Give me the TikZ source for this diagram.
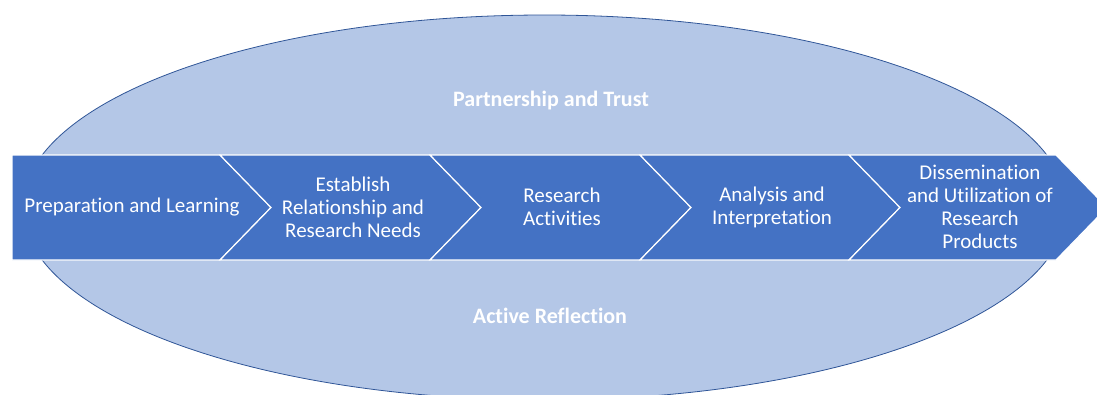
\documentclass[tikz,border=0pt]{standalone}
\usepackage{fontspec}
\setmainfont{Carlito}[Ligatures=NoCommon]
\usetikzlibrary{shapes}
\definecolor{cyclelight}{RGB}{180,199,231}
\definecolor{cycleedge}{RGB}{47,85,151}
\definecolor{stepblue}{RGB}{68,114,196}
\tikzstyle{cycle-back}=[draw=cycleedge, fill=cyclelight, line width=0.8pt]
\tikzstyle{chevron}=[draw=white, fill=stepblue, line width=1.2pt, line join=miter]
\tikzstyle{step-text}=[text=white, align=center, inner sep=0pt, font=\fontsize{21}{23}\selectfont]
\tikzstyle{cycle-text}=[text=white, inner sep=0pt, font=\fontsize{22}{26}\selectfont\bfseries]

\begin{document}
\begin{tikzpicture}[x=1pt,y=-1pt]
	\useasboundingbox (0,0) rectangle (1097,394);
	% background
	 \draw [cycle-back] (544.5,207.5) ellipse [x radius=522, y radius=192.5];

	% chevrons
	 \draw [chevron] (12,155) -- (220,155) -- (271,207.5) -- (220,260) -- (12,260) -- cycle;
	 \foreach \a/\b in {220/430, 430/640, 640/849, 849/1056}
		\draw [chevron] (\a,155) -- (\b,155) -- (\b+51,207.5) -- (\b,260) -- (\a,260) -- (\a+51,207.5) -- cycle;

	% nodes
	 \node [cycle-text] (trust) at (551,101) {Partnership and Trust};
	 \node [cycle-text] (reflection) at (550,316) {Active Reflection};

	 \node [step-text] (prep) at (132,207.5) {Preparation and Learning};
	 \node [step-text] (establish) at (353,207) {Establish\\Relationship and\\Research Needs};
	 \node [step-text] (activities) at (562,207) {Research\\Activities};
	 \node [step-text] (analysis) at (772,207) {Analysis and\\Interpretation};
	 \node [step-text] (dissemination) at (980,207) {Dissemination\\and Utilization of\\Research\\Products};
\end{tikzpicture}
\end{document}
